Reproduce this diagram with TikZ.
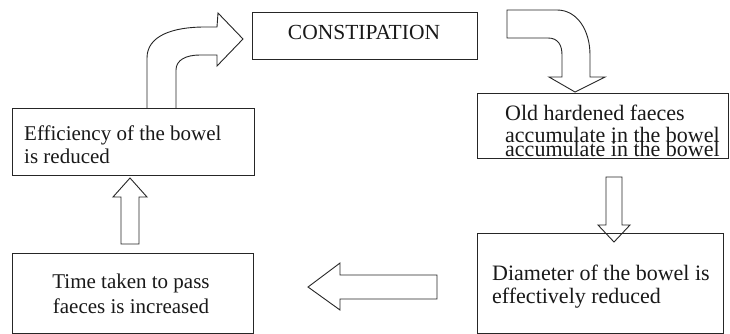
\documentclass[tikz,border=0pt]{standalone}
\usepackage{fontspec}
\setmainfont{Liberation Serif}
\begin{document}
\begin{tikzpicture}[x=1pt,y=-1pt,
  box/.style={draw=black!85, line width=1pt, inner sep=0pt, anchor=north west},
  barrow/.style={draw=black!85, line width=0.9pt, line join=miter},
  txt/.style={inner sep=0pt, text=black!90}]
\useasboundingbox[fill=white] (0,0) rectangle (730,334);

% boxes
\node[box, minimum width=225pt, minimum height=47pt] (constip) at (252,12) {};
\node[box, minimum width=242pt, minimum height=67pt] (eff) at (12,108) {};
\node[box, minimum width=251pt, minimum height=65pt] (old) at (477,93) {};
\node[box, minimum width=246pt, minimum height=100pt] (diam) at (477,233) {};
\node[box, minimum width=241pt, minimum height=80pt] (time) at (12,253) {};

% texts
\node[txt, anchor=base, font=\fontsize{21.5}{24}\selectfont] (tconstip) at (364,40) {CONSTIPATION};
\node[txt, anchor=north west, align=left, font=\fontsize{21}{23}\selectfont] (teff) at (24,125.6)
  {Efficiency of the bowel\\is reduced};
\begin{scope}
  \clip (477,93) rectangle (728,158);
  \node[txt, anchor=north west, align=left, font=\fontsize{22}{22}\selectfont] (told) at (505,105)
    {Old hardened faeces\\accumulate in the bowel\\[-8pt]accumulate in the bowel};
\end{scope}
\node[txt, anchor=north west, align=left, font=\fontsize{22}{23}\selectfont] (tdiam) at (492,265)
  {Diameter of the bowel is\\effectively reduced};
\node[txt, anchor=north, align=center, font=\fontsize{21}{25}\selectfont] (ttime) at (131,273.7)
  {Time taken to pass\\faeces is increased};

% curved arrow: efficiency -> constipation
\draw[barrow] (147,108) -- (147,58) .. controls (147,36) and (172,27) .. (205,27) -- (217,27)
  -- (218,13) -- (243,39) -- (217,66) -- (217,55) -- (200,55)
  .. controls (186,55) and (176,60) .. (176,70) -- (176,108);
% curved arrow: constipation -> old
\draw[barrow] (507,10) -- (557,10) .. controls (577,10) and (590,30) .. (590,55) -- (590,77)
  -- (605,77) -- (575,92) -- (549,77) -- (562,77) -- (562,55)
  .. controls (562,45) and (558,38) .. (548,38) -- (507,38) -- cycle;
% down arrow: old -> diameter
\draw[barrow] (606,177) -- (622,177) -- (622,225) -- (630,225) -- (614,242) -- (598,225)
  -- (606,225) -- cycle;
% left arrow: diameter -> time
\draw[barrow] (437,275) -- (340,275) -- (340,263) -- (308,287) -- (340,310) -- (340,299)
  -- (437,299) -- cycle;
% up arrow: time -> efficiency
\draw[barrow] (121,244) -- (121,197) -- (113,197) -- (130,178) -- (147,197) -- (139,197)
  -- (139,244) -- cycle;
\end{tikzpicture}
\end{document}
